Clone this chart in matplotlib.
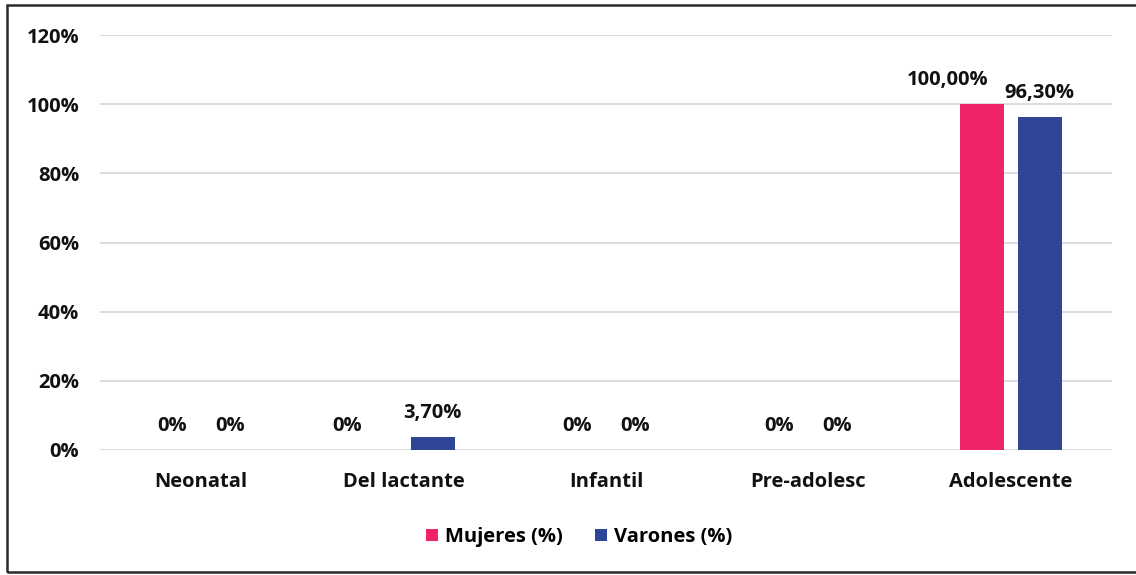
import numpy as np
import matplotlib.pyplot as plt
from matplotlib.patches import Rectangle
import matplotlib.ticker as ticker

plt.rcParams['font.family'] = ['Open Sans', 'DejaVu Sans']
plt.rcParams['font.weight'] = 'bold'

categories = ['Neonatal', 'Del lactante', 'Infantil', 'Pre-adolesc', 'Adolescente']
mujeres = [0.0, 0.0, 0.0, 0.0, 100.0]
varones = [0.0, 3.70, 0.0, 0.0, 96.30]
mujeres_labels = ['0%', '0%', '0%', '0%', '100,00%']
varones_labels = ['0%', '3,70%', '0%', '0%', '96,30%']
# horizontal nudge (points) for labels that would collide with a neighbour
mujeres_dx = [0, -20, 0, 0, -25]

pink = '#EE2368'
blue = '#2F4598'
fs = 14.5

fig = plt.figure(figsize=(11.36, 5.75), dpi=100)
ax = fig.add_axes([0.088, 0.2174, 0.891, 0.7217])

x = np.arange(len(categories))
bar_w = 0.217
off = 0.143
b1 = ax.bar(x - off, mujeres, bar_w, color=pink, label='Mujeres (%)', zorder=3)
b2 = ax.bar(x + off, varones, bar_w, color=blue, label='Varones (%)', zorder=3)

for i, (v, t) in enumerate(zip(mujeres, mujeres_labels)):
    ax.annotate(t, (x[i] - off, v), xytext=(mujeres_dx[i], 17.5), textcoords='offset points',
                ha='center', va='center', fontsize=fs, fontweight='bold', color='#111111')
for i, (v, t) in enumerate(zip(varones, varones_labels)):
    ax.annotate(t, (x[i] + off, v), xytext=(0, 17.5), textcoords='offset points',
                ha='center', va='center', fontsize=fs, fontweight='bold', color='#111111')

ax.set_xlim(-0.5, 4.5)
ax.set_ylim(0, 120)
ax.yaxis.set_major_locator(ticker.MultipleLocator(20))
ax.yaxis.set_major_formatter(ticker.FuncFormatter(lambda v, p: f'{int(v)}%'))
ax.set_xticks(x)
ax.set_xticklabels(categories)
ax.tick_params(axis='both', length=0, labelsize=fs, colors='#111111')
ax.tick_params(axis='x', pad=16)
ax.tick_params(axis='y', pad=15)
ax.grid(axis='y', color='#D9D9D9', linewidth=1.3, zorder=0)
for s in ax.spines.values():
    s.set_visible(False)

fig.legend(handles=[b1, b2], loc='center', bbox_to_anchor=(0.51, 0.066), ncol=2,
           frameon=False, fontsize=fs, handlelength=0.6, handleheight=0.6,
           handletextpad=0.35, columnspacing=1.6)

# outer frame
fig.patches.append(Rectangle((7 / 1136, 3 / 575), 1.2, 1 - 8 / 575,
                             transform=fig.transFigure, fill=False,
                             edgecolor='#2B2B2B', linewidth=1.8))

fig.savefig('out.png', dpi=100)
